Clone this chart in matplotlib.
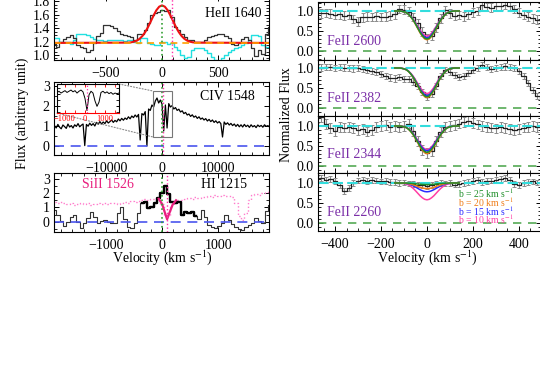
import numpy as np
import matplotlib.pyplot as plt
from matplotlib.ticker import MultipleLocator, FormatStrFormatter
from matplotlib.patches import Rectangle, ConnectionPatch

plt.rcParams['font.family'] = 'serif'
plt.rcParams['font.serif'] = ['Liberation Serif', 'DejaVu Serif']
plt.rcParams['mathtext.fontset'] = 'stix'
plt.rcParams['font.size'] = 10
for a in ('x', 'y'):
    plt.rcParams[a + 'tick.direction'] = 'in'
    plt.rcParams[a + 'tick.major.size'] = 3.5
    plt.rcParams[a + 'tick.minor.size'] = 2
    plt.rcParams[a + 'tick.major.width'] = 0.7
    plt.rcParams[a + 'tick.minor.width'] = 0.6
    plt.rcParams[a + 'tick.minor.visible'] = True
plt.rcParams['xtick.top'] = True
plt.rcParams['ytick.right'] = True
plt.rcParams['xtick.major.pad'] = 5
plt.rcParams['ytick.major.pad'] = 3
plt.rcParams['axes.linewidth'] = 0.8

# ---------------- data ----------------
# HeII 1640 (top left)
he_v = np.arange(-960, 961, 30)
he_flux = [1.17, 1.12, 1.20, 1.24, 1.27, 1.30, 1.25, 1.15, 1.12, 1.10,
           1.05, 1.08, 1.18, 1.28, 1.33, 1.44, 1.44, 1.43, 1.40, 1.36,
           1.32, 1.30, 1.28, 1.27, 1.23, 1.32, 1.32, 1.37, 1.47, 1.60,
           1.63, 1.64, 1.67, 1.65, 1.67, 1.57, 1.42, 1.37, 1.32, 1.27,
           1.23, 1.22, 1.20, 1.20, 1.20, 1.22, 1.27, 1.28, 1.30, 1.32,
           1.31, 1.28, 1.25, 1.17, 1.15, 1.18, 1.24, 1.27, 1.22, 1.10,
           0.98, 1.07, 1.02, 1.32, 1.42]
he_cyan = [1.25, 1.25, 1.20, 1.20, 1.20, 1.17, 1.22, 1.32, 1.32, 1.32,
           1.30, 1.27, 1.24, 1.22, 1.22, 1.21, 1.22, 1.22, 1.23, 1.22,
           1.22, 1.21, 1.22, 1.22, 1.20, 1.18, 1.25, 1.25, 1.18, 1.17,
           1.15, 1.15, 1.20, 1.20, 1.17, 1.18, 1.12, 1.08, 1.00, 0.95,
           0.97, 1.07, 1.10, 1.10, 1.10, 1.08, 1.03, 0.97, 0.93, 0.91,
           0.95, 1.00, 1.05, 1.08, 1.10, 1.12, 1.15, 1.18, 1.22, 1.30,
           1.30, 1.28, 1.15, 1.12, 1.12]
he_fit_v = [-960, -300, -275, -250, -225, -200, -175, -150, -125, -100, -75, -50, -25, 0,
            25, 50, 75, 100, 125, 150, 175, 200, 225, 250, 275, 300, 960]
he_fit = [1.18, 1.184, 1.189, 1.198, 1.214, 1.241, 1.283, 1.341, 1.416, 1.502, 1.590, 1.668, 1.721, 1.740,
          1.721, 1.668, 1.590, 1.502, 1.416, 1.341, 1.283, 1.241, 1.214, 1.198, 1.189, 1.184, 1.18]
he_cont = 1.18

# CIV 1548 (middle left)
civ_v = np.arange(-19200, 19201, 300)
civ_flux = [1.02, 0.90, 1.08, 0.94, 0.86, 1.05, 0.97, 0.88, 1.10, 0.95,
            1.02, 0.90, 1.06, 0.98, 1.12, 0.96, 1.04, 1.10, 0.02, 1.08,
            0.99, 1.14, 1.03, 1.12, 1.00, 1.18, 1.09, 1.22, 1.10, 1.20,
            1.12, 1.26, 1.15, 1.22, 1.30, 1.18, 1.28, 1.21, 1.35, 1.26,
            1.38, 1.29, 1.40, 1.33, 1.46, 1.36, 1.50, 1.42, 1.55, 1.45,
            1.58, 0.30, 1.62, 1.55, 1.72, 0.00, 1.85, 1.78, 2.05, 1.95,
            2.25, 2.40, 2.15, 2.30, 2.10, 0.75, 2.05, 0.90, 2.12, 1.95,
            2.02, 1.85, 1.92, 1.78, 1.84, 1.70, 1.76, 1.62, 1.68, 1.55,
            1.60, 1.48, 1.56, 1.44, 1.50, 1.38, 1.46, 1.34, 1.40, 1.30,
            1.37, 1.25, 1.33, 1.22, 1.30, 1.18, 1.26, 1.15, 1.22, 1.12,
            0.45, 1.20, 1.08, 1.16, 1.05, 1.13, 1.02, 1.10, 0.98, 1.08,
            0.96, 1.06, 0.95, 1.08, 0.97, 1.04, 0.93, 1.06, 0.96, 1.02,
            0.92, 1.05, 0.97, 1.03, 0.94, 1.06, 0.98, 1.02, 0.95]
civ_zoom_v = np.arange(-1400, 1701, 100)
civ_zoom = [2.10, 2.20, 2.05, 2.15, 2.25, 2.10, 2.20, 2.30, 2.15, 2.25,
            2.05, 2.20, 2.30, 2.15, 1.60, 0.60, 1.90, 2.20, 2.05, 1.40,
            0.95, 1.30, 2.10, 2.20, 2.05, 2.15, 2.00, 2.10, 1.95, 2.05,
            2.00, 2.05]
civ_box = (-1600, 1800, 0.45, 2.75)

# HI 1215 and SiII 1526 (bottom left)
hi_v = np.arange(-1920, 1921, 60)
hi_flux = [0.80, 0.50, 0.05, -0.30, 0.00, 0.35, 0.50, 0.00, -0.45, -0.10,
           0.25, 0.70, 0.30, -0.12, 0.05, 0.12, -0.05, -0.12, -0.08, 0.60,
           1.05, 0.20, -0.40, -0.46, -0.12, 0.60, 1.28, 1.40, 0.95, 1.05,
           1.28, 1.63, 1.98, 2.50, 1.95, 1.40, 1.30, 1.40, 0.50, 0.70,
           0.58, 0.70, 0.40, 0.20, 0.82, 0.35, -0.20, -0.35, -0.46, -0.30,
           -0.10, 0.45, 0.15, -0.15, -0.40, -0.50, -0.58, -0.40, -0.20, -0.10,
           0.24, 0.05, -0.12, 0.75, 1.15]
hi_thick = (-360, 600)
si_flux = [1.35, 1.30, 1.38, 1.28, 1.22, 1.30, 1.18, 1.25, 1.32, 1.22,
           1.28, 1.20, 1.26, 1.32, 1.24, 1.30, 1.22, 1.28, 1.34, 1.26,
           1.30, 1.38, 1.32, 1.42, 1.36, 1.45, 1.50, 1.56, 1.52, 1.62,
           1.58, 1.60, 1.25, 0.50, 0.45, 1.15, 1.48, 1.55, 1.50, 1.58,
           1.65, 1.60, 1.72, 1.68, 1.75, 1.70, 1.80, 1.76, 1.86, 1.80,
           1.85, 1.78, 1.82, 1.70, 1.30, 0.40, 0.10, 0.60, 1.50, 1.85,
           1.95, 1.90, 1.98, 2.05, 2.10]
si_abs_v = [-60, 0, 45, 90, 135, 190, 250]
si_abs = [1.60, 1.25, 0.70, 0.17, 0.65, 1.20, 1.50]
v_hi_ref = 0
v_si_ref = 90

# FeII panels (right)
fe_v = np.arange(-480, 501, 20)
fe_names = ['FeII 2600', 'FeII 2382', 'FeII 2344', 'FeII 2260']
fe2600 = [0.96, 0.94, 0.95, 0.93, 0.90, 0.92, 0.88, 0.90, 0.80, 0.73,
          0.84, 0.86, 0.85, 0.87, 0.85, 0.86, 0.88, 0.92, 1.05, 1.03,
          0.98, 0.85, 0.70, 0.48, 0.32, 0.38, 0.58, 0.82, 1.02, 0.94,
          0.88, 0.90, 0.87, 0.92, 0.97, 1.00, 1.14, 1.10, 1.08, 1.12,
          1.13, 1.16, 1.12, 1.05, 0.96, 0.90, 0.86, 0.82, 0.78, 0.76]
fe2382 = [1.00, 1.01, 1.03, 1.02, 1.00, 1.03, 1.01, 1.00, 0.99, 1.00,
          0.97, 0.95, 0.93, 0.90, 0.85, 0.80, 0.76, 0.74, 0.77, 0.72,
          0.73, 0.66, 0.55, 0.40, 0.28, 0.35, 0.55, 0.80, 0.95, 0.90,
          0.83, 0.78, 0.80, 0.88, 0.95, 1.00, 1.07, 1.02, 0.97, 1.00,
          1.02, 1.04, 1.03, 1.00, 0.92, 0.80, 0.62, 0.45, 0.30, 0.20]
fe2344 = [1.20, 1.22, 1.05, 0.95, 0.88, 0.97, 0.96, 0.98, 0.95, 0.90,
          0.92, 0.86, 0.90, 0.98, 1.00, 1.02, 0.98, 1.00, 0.97, 1.00,
          1.06, 0.88, 0.62, 0.40, 0.32, 0.38, 0.62, 0.85, 0.98, 1.00,
          1.03, 1.06, 1.10, 1.12, 1.08, 1.04, 1.00, 0.98, 0.96, 0.94,
          0.98, 0.95, 0.92, 0.90, 0.93, 0.96, 0.98, 1.00, 0.98, 1.00]
fe2260 = [1.10, 1.12, 1.08, 1.10, 1.05, 0.95, 0.80, 0.88, 1.00, 1.06,
          1.08, 1.05, 1.07, 1.06, 1.04, 1.05, 1.02, 1.03, 1.00, 1.01,
          0.99, 0.98, 0.96, 0.94, 0.93, 0.95, 0.97, 1.00, 0.99, 1.00,
          0.96, 0.98, 1.00, 1.03, 1.05, 1.08, 1.03, 1.05, 1.06, 1.07,
          1.10, 1.12, 1.08, 0.97, 0.95, 1.00, 1.02, 1.04, 1.01, 1.00]
fe_err = [0.11, 0.08, 0.12, 0.07]
fe_ylims = [(-0.225, 1.225), (-0.2, 1.2), (-0.175, 1.25), (-0.2, 1.25)]

# model profiles: shared line shape and the central flux for each b value
prof_v = [-140, -120, -110, -100, -90, -80, -70, -60, -50, -40, -30, -20, -10, 0,
          10, 20, 30, 40, 50, 60, 70, 80, 90, 100, 110, 120, 140]
prof_shape = [0, 0, 0.01, 0.03, 0.06, 0.12, 0.21, 0.32, 0.46, 0.61, 0.76, 0.88, 0.97, 1.0,
              0.97, 0.88, 0.76, 0.61, 0.46, 0.32, 0.21, 0.12, 0.06, 0.03, 0.01, 0, 0]
b_values = [25, 20, 15, 10]
b_colors = ['#1f8f2a', '#f07d18', '#2a2aff', '#ff3fa4']
b_minflux = {25: [0.30, 0.28, 0.34, 0.96],
             20: [0.28, 0.26, 0.31, 0.86],
             15: [0.33, 0.31, 0.38, 0.78],
             10: [0.37, 0.36, 0.41, 0.58]}

# ---------------- layout ----------------
W, H = 540, 386
fig = plt.figure(figsize=(W / 100, H / 100), dpi=100)


def box(x0, y0, x1, y1):
    return fig.add_axes([x0 / W, 1 - y1 / H, (x1 - x0) / W, (y1 - y0) / H])


green_v = '#33a033'
pink_v = '#ff33aa'
blue_d = '#4a55ee'

# HeII
ax = box(54, -4, 269, 60)
ax.plot(he_v, he_cyan, drawstyle='steps-mid', color='#22e0e0', lw=1.0)
ax.plot(he_v, he_flux, drawstyle='steps-mid', color='#333333', lw=0.9)
ax.plot(he_fit_v, he_fit, color='#ee1111', lw=1.5)
ax.axhline(he_cont, color='#ffa000', lw=1.2, dashes=(4, 3))
ax.axvline(v_hi_ref, color=green_v, ls=':', lw=1.2)
ax.axvline(v_si_ref, color=pink_v, ls=':', lw=1.0)
ax.set_xlim(-964, 955)
ax.set_ylim(0.925, 1.88)
ax.xaxis.set_major_locator(MultipleLocator(500))
ax.xaxis.set_minor_locator(MultipleLocator(100))
ax.yaxis.set_major_locator(MultipleLocator(0.2))
ax.yaxis.set_minor_locator(MultipleLocator(0.05))
ax.yaxis.set_major_formatter(FormatStrFormatter('%.1f'))
ax.text(0.967, 0.734, 'HeII 1640', transform=ax.transAxes, ha='right', va='center')

# CIV
axc = box(54, 82, 269, 155)
axc.plot(civ_v, civ_flux, color='black', lw=0.9)
axc.axhline(0, color=blue_d, lw=1.2, dashes=(6, 4))
axc.axvline(v_hi_ref, color=green_v, ls=':', lw=1.2)
axc.axvline(v_si_ref, color=pink_v, ls=':', lw=1.0)
axc.add_patch(Rectangle((civ_box[0], civ_box[2]), civ_box[1] - civ_box[0],
                        civ_box[3] - civ_box[2], fill=False, ec='#777777', lw=0.8, zorder=4))
axc.set_xlim(-19290, 19100)
axc.set_ylim(-0.45, 3.2)
axc.xaxis.set_major_locator(MultipleLocator(10000))
axc.xaxis.set_minor_locator(MultipleLocator(2000))
axc.yaxis.set_major_locator(MultipleLocator(1))
axc.yaxis.set_minor_locator(MultipleLocator(0.5))
axc.text(0.935, 0.80, 'CIV 1548', transform=axc.transAxes, ha='right', va='center')

# inset
axi = box(57, 84, 119, 113)
axi.set_zorder(5)
axi.plot(civ_zoom_v, civ_zoom, color='black', lw=0.7)
axi.axvline(v_si_ref, color=pink_v, ls=':', lw=0.9)
axi.set_xlim(-1400, 1700)
axi.set_ylim(0.4, 2.8)
axi.xaxis.set_major_locator(MultipleLocator(1000))
axi.xaxis.set_minor_locator(MultipleLocator(500))
axi.yaxis.set_major_locator(MultipleLocator(1))
axi.yaxis.set_minor_locator(MultipleLocator(0.5))
axi.tick_params(axis='x', which='both', colors='red', labelsize=6, pad=1.5, length=2)
axi.tick_params(axis='y', which='both', labelleft=False, length=2)
axi.spines['bottom'].set_color('red')
for corner_in, corner_box in (((1, 1), (civ_box[0], civ_box[3])), ((0, 0), (civ_box[0], civ_box[2]))):
    con = ConnectionPatch(xyA=corner_in, coordsA=axi.transAxes, xyB=corner_box,
                          coordsB=axc.transData, color='#888888', ls=':', lw=0.8)
    fig.add_artist(con)

# HI
axh = box(54, 173, 269, 232)
axh.plot(hi_v, si_flux, drawstyle='steps-mid', color='#ff7ccc', ls=':', lw=1.0)
axh.plot(hi_v, hi_flux, drawstyle='steps-mid', color='#333333', lw=0.8)
sel = (hi_v >= hi_thick[0]) & (hi_v <= hi_thick[1])
axh.plot(hi_v[sel], np.array(hi_flux)[sel], drawstyle='steps-mid', color='black', lw=1.7)
axh.plot(si_abs_v, si_abs, color='#e8207f', lw=1.6)
axh.axhline(0, color=blue_d, lw=1.2, dashes=(6, 4))
axh.axvline(v_hi_ref, color=green_v, ls=':', lw=1.2)
axh.axvline(v_si_ref, color=pink_v, ls=':', lw=1.0)
axh.set_xlim(-1930, 1910)
axh.set_ylim(-0.72, 3.41)
axh.xaxis.set_major_locator(MultipleLocator(1000))
axh.xaxis.set_minor_locator(MultipleLocator(200))
axh.yaxis.set_major_locator(MultipleLocator(1))
axh.yaxis.set_minor_locator(MultipleLocator(0.5))
axh.text(0.13, 0.797, 'SiII 1526', color='#e8207f', transform=axh.transAxes, ha='left', va='center')
axh.text(0.898, 0.797, 'HI 1215', transform=axh.transAxes, ha='right', va='center')

# FeII panels
fe_flux = [fe2600, fe2382, fe2344, fe2260]
fe_boxes = [(2, 60), (60, 116), (116, 173), (173, 231)]
for i in range(4):
    axf = box(318, fe_boxes[i][0], 541, fe_boxes[i][1])
    axf.errorbar(fe_v, fe_flux[i], yerr=fe_err[i], fmt='none', ecolor='#8c8c8c',
                 elinewidth=0.8, capsize=1.5, capthick=0.7)
    axf.plot(fe_v, fe_flux[i], drawstyle='steps-mid', color='#222222', lw=0.9)
    axf.axhline(1.0, color='#33dddd', lw=1.5, dashes=(5, 2))
    axf.axhline(0.0, color='#55aa55', lw=1.2, dashes=(5, 4))
    for b, c in list(zip(b_values, b_colors))[::-1]:
        model = 1 - (1 - b_minflux[b][i]) * np.array(prof_shape)
        axf.plot(prof_v, model, color=c, lw=1.1)
    axf.set_xlim(-474, 496)
    axf.set_ylim(*fe_ylims[i])
    axf.xaxis.set_major_locator(MultipleLocator(200))
    axf.xaxis.set_minor_locator(MultipleLocator(50))
    axf.yaxis.set_major_locator(MultipleLocator(0.5))
    axf.yaxis.set_minor_locator(MultipleLocator(0.1))
    axf.yaxis.set_major_formatter(FormatStrFormatter('%.1f'))
    axf.text(0.04, 0.32, fe_names[i], color='#7b2fa8', transform=axf.transAxes,
             ha='left', va='center')
    if i < 3:
        axf.tick_params(labelbottom=False)
    else:
        ys = [0.655, 0.50, 0.345, 0.207]
        for b, c, yy in zip(b_values, b_colors, ys):
            axf.text(0.879, yy, 'b = %d km s$^{-1}$' % b, color=c, fontsize=7,
                     transform=axf.transAxes, ha='right', va='center')

fig.text(22 / W, 1 - 113 / H, 'Flux (arbitrary unit)', rotation=90, ha='center', va='center')
fig.text(286 / W, 1 - 115 / H, 'Normalized Flux', rotation=90, ha='center', va='center')
fig.text(162 / W, 1 - 258 / H, 'Velocity (km s$^{-1}$)', ha='center', va='center')
fig.text(427 / W, 1 - 258 / H, 'Velocity (km s$^{-1}$)', ha='center', va='center')

fig.savefig('out.png', dpi=100)
